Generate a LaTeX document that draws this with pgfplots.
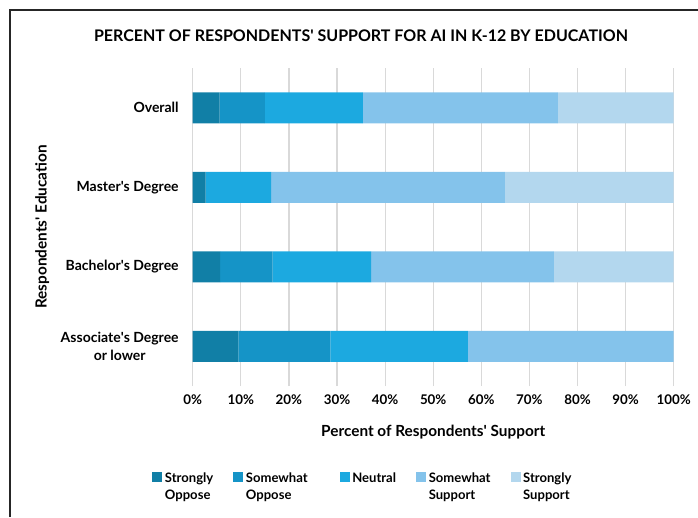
\documentclass[border=0pt]{standalone}
\usepackage{fontspec}
\setmainfont{Lato}[UprightFont={* Bold}, BoldFont={* Bold}]
\newfontfamily\titlefont{Lato}[UprightFont={* Bold}]
\newcommand{\ap}{\textquotesingle}
\usepackage{pgfplots}
\pgfplotsset{compat=1.18}

\definecolor{cSO}{HTML}{117FA6}
\definecolor{cWO}{HTML}{1594C7}
\definecolor{cN}{HTML}{1CA9E0}
\definecolor{cWS}{HTML}{84C3EB}
\definecolor{cSS}{HTML}{B3D7EE}
\definecolor{gridc}{HTML}{D9D9D9}

\begin{document}
\begin{tikzpicture}[x=0.75pt,y=0.75pt]
% canvas in pixel units (y upwards)
\path[use as bounding box] (0,0) rectangle (698,517);
% frame
\draw[line width=1.5pt,black!85] (10,0) -- (10,507) -- (698,507);
% title
\node[font=\titlefont\fontsize{12}{14}\selectfont] at (361,481)
  {PERCENT OF RESPONDENTS\ap\ SUPPORT FOR AI IN K-12 BY EDUCATION};

\begin{axis}[
  at={(144.525pt,98.25pt)}, anchor=south west,
  scale only axis,
  width=360.75pt, height=238.5pt,
  xbar stacked,
  bar width=23.25pt,
  xmin=0, xmax=100,
  ymin=-0.5, ymax=3.5,
  xtick={0,10,...,100},
  xticklabel={\pgfmathprintnumber{\tick}\%},
  ytick={0,1,2,3},
  yticklabels={{Associate\ap s Degree\\or lower},{Bachelor\ap s Degree},{Master\ap s Degree},{Overall}},
  yticklabel style={align=center, font=\fontsize{10.5}{14}\selectfont, xshift=-7pt},
  xticklabel style={font=\fontsize{10}{12}\selectfont, yshift=-3pt},
  /pgf/number format/assume math mode=true,
  major tick length=0pt,
  axis line style={draw=none},
  xmajorgrids,
  grid style={gridc, line width=0.9pt},
  xlabel={Percent of Respondents\ap\ Support},
  ylabel={Respondents\ap\ Education},
  xlabel style={font=\fontsize{11.5}{13}\selectfont,
    at={(axis description cs:0.5,-0.1447)}, anchor=center},
  ylabel style={font=\fontsize{11.5}{13}\selectfont,
    at={(axis description cs:-0.313,0.5)}, anchor=center},
  legend style={
    at={(-0.0846,-0.262)}, anchor=north west,
    draw=none, fill=none, inner sep=0pt,
    legend columns=5,
    font=\fontsize{9.8}{13}\selectfont,
    nodes={align=left, anchor=north west, inner sep=2pt},
    /tikz/every even column/.append style={column sep=13pt},
  },
  legend image code/.code={
    \fill[#1] (0pt,-9.5pt) rectangle (7.5pt,-2pt);
  },
  legend cell align=left,
]
\addplot[fill=cSO, draw=none] coordinates {(9.5,0) (5.7,1) (2.7,2) (5.6,3)};
\addplot[fill=cWO, draw=none] coordinates {(19.1,0) (10.9,1) (0,2) (9.4,3)};
\addplot[fill=cN, draw=none] coordinates {(28.6,0) (20.5,1) (13.6,2) (20.4,3)};
\addplot[fill=cWS, draw=none] coordinates {(42.8,0) (38.0,1) (48.6,2) (40.5,3)};
\addplot[fill=cSS, draw=none] coordinates {(0,0) (24.9,1) (35.1,2) (24.1,3)};
\legend{{Strongly\\Oppose},{Somewhat\hspace*{9pt}\\Oppose},{Neutral},{Somewhat\\Support},{Strongly\\Support}}
\end{axis}
\end{tikzpicture}
\end{document}
